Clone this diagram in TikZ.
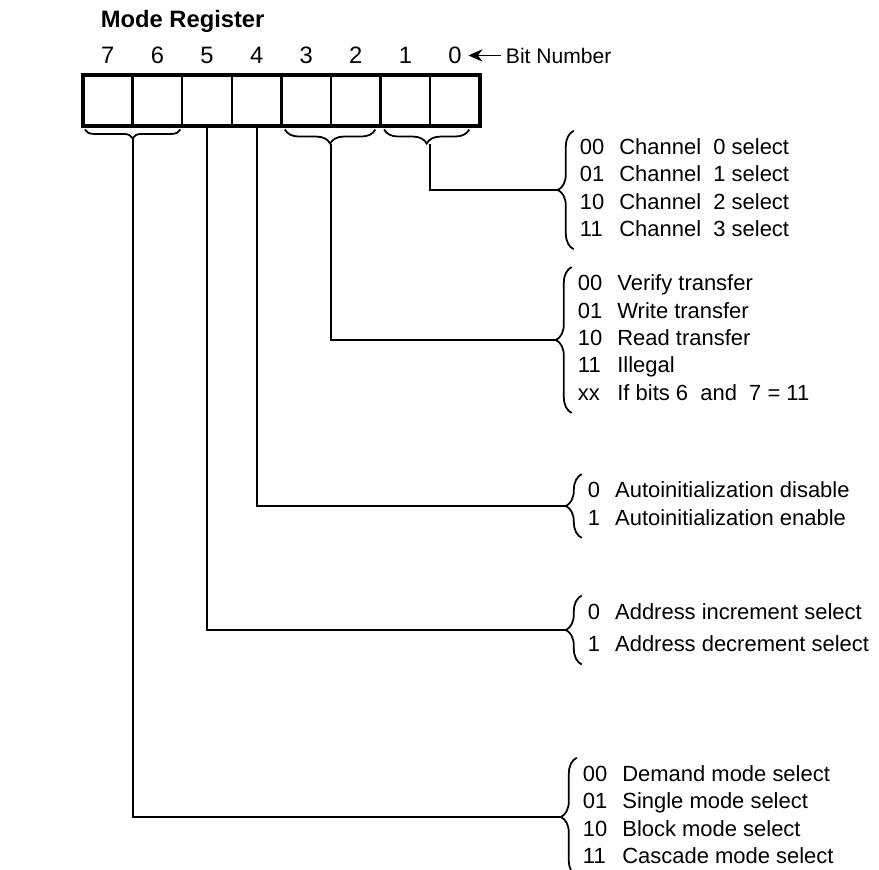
\documentclass[tikz,border=0pt]{standalone}
\usepackage{fontspec}
\setmainfont{Liberation Sans}
\usetikzlibrary{positioning,arrows.meta,decorations.pathreplacing,calc}

\begin{document}
\begin{tikzpicture}[
  x=0.02cm, y=-0.02cm, line width=1.1pt,
  every node/.style={font=\fontsize{13.5}{15.6}\selectfont},
  cell/.style={draw, line width=1.3pt, minimum width=0.992cm, minimum height=1.02cm,
               inner sep=0pt, outer sep=0pt},
  grp/.style={anchor=west, inner sep=0pt, align=left, font=\fontsize{12.5}{15.6}\selectfont},
  lbrace/.style={decorate, decoration={brace, amplitude=#1}, line width=1pt},
  lbrace/.default=9pt
]
\useasboundingbox (0,0) rectangle (879,869);

\node[anchor=base west, inner sep=0pt, font=\bfseries\fontsize{13.5}{15.6}\selectfont] (title)
     at (100,27) {Mode Register};

\foreach \b [count=\i from 0] in {7,6,5,4,3,2,1,0} {
  \node[cell] (c\b) at (107.8+49.6*\i,100.5) {};
  \node[anchor=base] (n\b) at ([yshift=0.24cm]c\b.north) {\b};
}
\draw[line width=2pt] (c7.north west) rectangle (c0.south east);

\node[anchor=base west, inner sep=0pt, font=\fontsize{12}{14}\selectfont] (bitlab)
     at (505,63) {Bit Number};
\draw[-{Stealth[length=8pt,width=7pt]}] ([xshift=-2pt]bitlab.west) -- (bitlab.west -| n0.east);

\draw[lbrace=5pt] ([xshift=-1pt,yshift=-2pt]c6.south east) -- ([xshift=1pt,yshift=-2pt]c7.south west);
\draw[lbrace=8pt] ([xshift=-3pt,yshift=-2pt]c2.south east) -- ([xshift=2pt,yshift=-2pt]c3.south west);
\draw[lbrace=8pt] ([xshift=-6pt,yshift=-2pt]c0.south east) -- ([xshift=2pt,yshift=-2pt]c1.south west);
\coordinate (t76) at ([yshift=-7pt]c7.south east);
\coordinate (t32) at ([yshift=-10pt]c3.south east);
\coordinate (t10) at ([yshift=-10pt]c1.south east);

\node[grp] (chan) at (579,190) {\begin{tabular}{@{}l@{\hspace{0.3cm}}l@{}}
  00 & Channel~~0 select\\ 01 & Channel~~1 select\\
  10 & Channel~~2 select\\ 11 & Channel~~3 select\end{tabular}};
\node[grp] (xfer) at (577,340) {\begin{tabular}{@{}l@{\hspace{0.3cm}}l@{}}
  00 & Verify transfer\\ 01 & Write transfer\\ 10 & Read transfer\\
  11 & Illegal\\ xx & If bits 6~~and~~7 = 11\end{tabular}};
\node[grp] (auto) at (587,506) {\begin{tabular}{@{}l@{\hspace{0.3cm}}l@{}}
  0 & Autoinitialization disable\\ 1 & Autoinitialization enable\end{tabular}};
\node[grp] (addr) at (587,630) {\begin{tabular}{@{}l@{\hspace{0.3cm}}l@{}}
  0 & Address increment select\\[3pt] 1 & Address decrement select\end{tabular}};
\node[grp] (mode) at (582,817) {\begin{tabular}{@{}l@{\hspace{0.3cm}}l@{}}
  00 & Demand mode select\\ 01 & Single mode select\\
  10 & Block mode select\\ 11 & Cascade mode select\end{tabular}};

\foreach \g in {chan,xfer,auto,addr,mode} {
  \draw[lbrace] ([xshift=-3pt,yshift=-2pt]\g.south west) -- ([xshift=-3pt,yshift=2pt]\g.north west);
  \coordinate (\g T) at ([xshift=-12pt]\g.west);
}

\draw (t10) |- (chanT);
\draw (t32) |- (xferT);
\draw (c4.south) |- (autoT);
\draw (c5.south) |- (addrT);
\draw (t76) |- (modeT);
\end{tikzpicture}
\end{document}
